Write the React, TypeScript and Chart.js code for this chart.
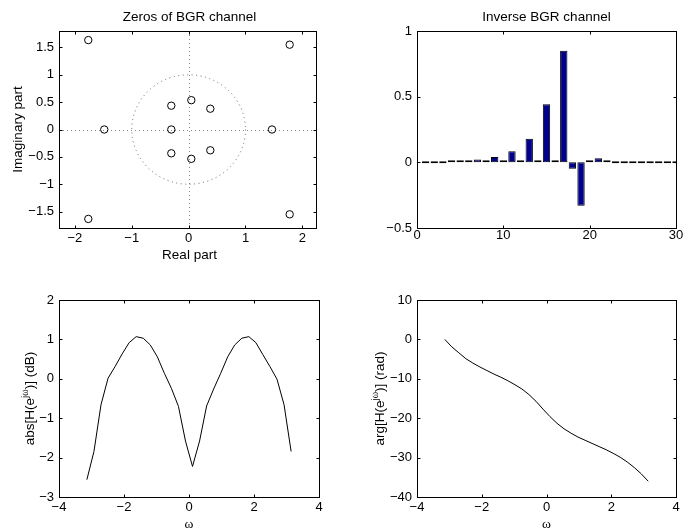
import React, { useEffect, useRef } from "react";
import { Chart, registerables } from "chart.js";

Chart.register(...registerables);

// ---------------- data ----------------
// Panel 1: zeros of the channel (real / imaginary parts)
const zerosReal = [-1.765, 1.777, -1.765, 1.777, -1.484, 1.466, -0.305, 0.047, 0.381, -0.305, -0.305, 0.047, 0.381];
const zerosImag = [1.634, 1.55, -1.634, -1.55, 0, 0, 0.435, 0.536, 0.38, 0, -0.435, -0.536, -0.38];
const zerosXTicks = [-2, -1, 0, 1, 2];
const zerosYTicks = [-1.5, -1, -0.5, 0, 0.5, 1, 1.5];
const unitCircleRadius = 1;

// Panel 2: inverse channel taps
const tapIndex = [1, 2, 3, 4, 5, 6, 7, 8, 9, 10, 11, 12, 13, 14, 15, 16, 17, 18, 19, 20, 21, 22, 23, 24, 25, 26, 27, 28, 29, 30];
const tapValue = [0, 0, 0, 0.002, 0.008, 0.003, 0.022, 0.004, 0.04, 0.005, 0.084, 0.005, 0.179, 0.015, 0.442, 0.015, 0.85, -0.048, -0.33, 0.002, 0.032, 0.002, 0, 0, 0, 0, 0, 0, 0, 0];
const tapXTicks = [0, 10, 20, 30];
const tapYTicks = [-0.5, 0, 0.5, 1];

// Panels 3/4: frequency response
const omega = [-3.142, -2.925, -2.708, -2.491, -2.275, -2.058, -1.842, -1.625, -1.408, -1.192, -0.975, -0.758, -0.542, -0.325, -0.108, 0.108, 0.325, 0.542, 0.758, 0.975, 1.192, 1.408, 1.625, 1.842, 2.058, 2.275, 2.491, 2.708, 2.925, 3.142];
const magnitudeDb = [-2.56, -1.845, -0.66, 0.015, 0.31, 0.63, 0.917, 1.07, 1.03, 0.86, 0.56, 0.14, -0.24, -0.7, -1.58, -2.225, -1.58, -0.69, -0.26, 0.14, 0.56, 0.86, 1.03, 1.07, 0.917, 0.61, 0.31, -0.01, -0.66, -1.845];
const phaseRad = [0, -1.9, -3.4, -4.9, -6.0, -7.0, -7.9, -8.8, -9.6, -10.5, -11.5, -12.6, -14.0, -15.7, -17.7, -19.6, -21.3, -22.7, -23.8, -24.8, -25.6, -26.4, -27.2, -28.0, -28.9, -29.9, -31.1, -32.5, -34.1, -36.0];
const omegaTicks = [-4, -2, 0, 2, 4];
const magTicks = [-3, -2, -1, 0, 1, 2];
const phaseTicks = [-40, -30, -20, -10, 0, 10];

// ---------------- styling ----------------
const W = 698;
const H = 529;
const SANS = "'Liberation Sans', Arial, Helvetica, sans-serif";
const SERIF = "'Liberation Serif', 'DejaVu Serif', serif";
const AXIS_W = 50;
const AXIS_H = 30;
const TICK_LEN = 3;
const TEXT_SIZE = 13.5;

type Area = { left: number; top: number; right: number; bottom: number };
type Part = { t: string; sup?: boolean; serif?: boolean };
type TextSpec = {
  title?: string;
  titleDx?: number;
  xlabel?: Part[];
  xlabelDx?: number;
  xlabelDy?: number;
  ylabel?: Part[];
  ylabelDx?: number;
};

const fmt = (v: number | string) => String(v).replace("-", "\u2212");

function drawParts(ctx: CanvasRenderingContext2D, parts: Part[], x: number, y: number) {
  const fonts = parts.map((p) => `${p.sup ? TEXT_SIZE * 0.72 : TEXT_SIZE}px ${p.serif ? SERIF : SANS}`);
  const widths = parts.map((p, i) => {
    ctx.font = fonts[i];
    return ctx.measureText(p.t).width;
  });
  const total = widths.reduce((a, b) => a + b, 0);
  let cx = x - total / 2;
  ctx.textAlign = "left";
  ctx.textBaseline = "alphabetic";
  parts.forEach((p, i) => {
    ctx.font = fonts[i];
    ctx.fillText(p.t, cx, p.sup ? y - TEXT_SIZE * 0.42 : y);
    cx += widths[i];
  });
}

function makeTextPlugin(spec: TextSpec) {
  return {
    id: "panelText",
    afterDraw(chart: any) {
      const { ctx, chartArea: a } = chart;
      ctx.save();
      ctx.fillStyle = "#000";
      const cx = (a.left + a.right) / 2;
      const cy = (a.top + a.bottom) / 2;
      if (spec.title) drawParts(ctx, [{ t: spec.title }], cx + (spec.titleDx || 0), a.top - 10.5);
      if (spec.xlabel) drawParts(ctx, spec.xlabel, cx + (spec.xlabelDx || 0), a.bottom + (spec.xlabelDy || 31));
      if (spec.ylabel) {
        ctx.translate(a.left + (spec.ylabelDx || -30), cy);
        ctx.rotate(-Math.PI / 2);
        drawParts(ctx, spec.ylabel, 0, 0);
      }
      ctx.restore();
    },
  };
}

const framePlugin = {
  id: "frame",
  afterDatasetsDraw(chart: any) {
    const { ctx, chartArea: a, scales } = chart;
    ctx.save();
    ctx.strokeStyle = "#000";
    ctx.lineWidth = 1;
    ctx.setLineDash([]);
    const l = Math.round(a.left) + 0.5;
    const r = Math.round(a.right) + 0.5;
    const t = Math.round(a.top) + 0.5;
    const b = Math.round(a.bottom) + 0.5;
    ctx.strokeRect(l, t, r - l, b - t);
    ctx.beginPath();
    const xs = scales.x;
    xs.ticks.forEach((tk: any) => {
      if (tk.value <= xs.min || tk.value >= xs.max) return;
      const px = Math.round(xs.getPixelForValue(tk.value)) + 0.5;
      ctx.moveTo(px, b);
      ctx.lineTo(px, b - TICK_LEN);
      ctx.moveTo(px, t);
      ctx.lineTo(px, t + TICK_LEN);
    });
    const ys = scales.y;
    ys.ticks.forEach((tk: any) => {
      if (tk.value <= ys.min || tk.value >= ys.max) return;
      const py = Math.round(ys.getPixelForValue(tk.value)) + 0.5;
      ctx.moveTo(l, py);
      ctx.lineTo(l + TICK_LEN, py);
      ctx.moveTo(r, py);
      ctx.lineTo(r - TICK_LEN, py);
    });
    ctx.stroke();
    ctx.restore();
  },
};

const unitCirclePlugin = {
  id: "unitCircle",
  beforeDatasetsDraw(chart: any) {
    const { ctx, chartArea: a, scales } = chart;
    const cx = scales.x.getPixelForValue(0);
    const cy = scales.y.getPixelForValue(0);
    const rx = scales.x.getPixelForValue(unitCircleRadius) - cx;
    const ry = cy - scales.y.getPixelForValue(unitCircleRadius);
    ctx.save();
    ctx.strokeStyle = "#666";
    ctx.lineWidth = 1;
    ctx.setLineDash([1, 3.5]);
    ctx.beginPath();
    ctx.ellipse(cx, cy, rx, ry, 0, 0, Math.PI * 2);
    ctx.stroke();
    ctx.setLineDash([1, 3]);
    ctx.strokeStyle = "#888";
    ctx.beginPath();
    const py = Math.round(cy) + 0.5;
    const px = Math.round(cx) + 0.5;
    ctx.moveTo(a.left, py);
    ctx.lineTo(a.right, py);
    ctx.moveTo(px, a.top);
    ctx.lineTo(px, a.bottom);
    ctx.stroke();
    ctx.restore();
  },
};

function axes(xMin: number, xMax: number, yMin: number, yMax: number, xTicks: number[], yTicks: number[], xPad: number) {
  const tickFont = { family: SANS, size: 13 };
  return {
    x: {
      type: "linear",
      position: "bottom",
      min: xMin,
      max: xMax,
      offset: false,
      grid: { display: false, drawTicks: false },
      border: { display: false },
      ticks: { color: "#000", font: tickFont, padding: xPad, maxRotation: 0, autoSkip: false, callback: fmt },
      afterBuildTicks: (s: any) => {
        s.ticks = xTicks.map((v) => ({ value: v }));
      },
      afterFit: (s: any) => {
        s.height = AXIS_H;
      },
    },
    y: {
      type: "linear",
      position: "left",
      min: yMin,
      max: yMax,
      grid: { display: false, drawTicks: false },
      border: { display: false },
      ticks: { color: "#000", font: tickFont, padding: 5, autoSkip: false, callback: fmt },
      afterBuildTicks: (s: any) => {
        s.ticks = yTicks.map((v) => ({ value: v }));
      },
      afterFit: (s: any) => {
        s.width = AXIS_W;
      },
    },
  };
}

function baseOptions(area: Area, scales: any) {
  return {
    responsive: false,
    animation: false,
    devicePixelRatio: 1,
    events: [],
    layout: {
      padding: {
        left: area.left - AXIS_W,
        top: area.top,
        right: W - area.right,
        bottom: H - area.bottom - AXIS_H,
      },
    },
    plugins: { legend: { display: false }, tooltip: { enabled: false }, title: { display: false } },
    scales,
  };
}

const AREA_TL: Area = { left: 59, top: 31, right: 316, bottom: 228 };
const AREA_TR: Area = { left: 417, top: 31, right: 676, bottom: 228 };
const AREA_BL: Area = { left: 59, top: 300, right: 319, bottom: 497 };
const AREA_BR: Area = { left: 417, top: 300, right: 676, bottom: 497 };

function zerosConfig(): any {
  return {
    type: "scatter",
    data: {
      datasets: [
        {
          data: zerosReal.map((re, i) => ({ x: re, y: zerosImag[i] })),
          showLine: false,
          pointRadius: 3.7,
          pointBorderWidth: 1,
          pointBorderColor: "#000",
          pointBackgroundColor: "rgba(0,0,0,0)",
        },
      ],
    },
    options: baseOptions(AREA_TL, axes(-2.28, 2.24, -1.8, 1.8, zerosXTicks, zerosYTicks, 3)),
    plugins: [
      unitCirclePlugin,
      framePlugin,
      makeTextPlugin({
        title: "Zeros of BGR channel",
        titleDx: 2,
        xlabel: [{ t: "Real part" }],
        xlabelDx: 2,
        xlabelDy: 31,
        ylabel: [{ t: "Imaginary part" }],
        ylabelDx: -37,
      }),
    ],
  };
}

function tapsConfig(): any {
  return {
    type: "bar",
    data: {
      datasets: [
        {
          data: tapIndex.map((n, i) => ({ x: n, y: tapValue[i] })),
          backgroundColor: "#00008C",
          borderColor: "#000",
          borderWidth: 1,
          borderSkipped: false,
          minBarLength: 2,
          barPercentage: 0.85,
          categoryPercentage: 1,
        },
      ],
    },
    options: baseOptions(AREA_TR, axes(0, 30, -0.5, 1, tapXTicks, tapYTicks, -0.5)),
    plugins: [framePlugin, makeTextPlugin({ title: "Inverse BGR channel" })],
  };
}

function responseConfig(values: number[], area: Area, yMin: number, yMax: number, yTicks: number[], ylabel: Part[], ylabelDx: number): any {
  return {
    type: "scatter",
    data: {
      datasets: [
        {
          data: omega.map((w, i) => ({ x: w, y: values[i] })),
          showLine: true,
          borderColor: "#000",
          borderWidth: 1,
          pointRadius: 0,
          tension: 0,
        },
      ],
    },
    options: baseOptions(area, axes(-4, 4, yMin, yMax, omegaTicks, yTicks, 3)),
    plugins: [
      framePlugin,
      makeTextPlugin({
        xlabel: [{ t: "\u03c9", serif: true }],
        xlabelDy: 30.5,
        ylabel,
        ylabelDx,
      }),
    ],
  };
}

export default function App() {
  const r1 = useRef<HTMLCanvasElement>(null);
  const r2 = useRef<HTMLCanvasElement>(null);
  const r3 = useRef<HTMLCanvasElement>(null);
  const r4 = useRef<HTMLCanvasElement>(null);

  useEffect(() => {
    const charts: Chart[] = [];
    const make = (el: HTMLCanvasElement | null, cfg: any) => {
      if (el) charts.push(new Chart(el, cfg));
    };
    make(r1.current, zerosConfig());
    make(r2.current, tapsConfig());
    make(
      r3.current,
      responseConfig(
        magnitudeDb,
        AREA_BL,
        -3,
        2,
        magTicks,
        [{ t: "abs[H(e" }, { t: "j", sup: true }, { t: "\u03c9", sup: true, serif: true }, { t: ")] (dB)" }],
        -25
      )
    );
    make(
      r4.current,
      responseConfig(
        phaseRad,
        AREA_BR,
        -40,
        10,
        phaseTicks,
        [{ t: "arg[H(e" }, { t: "j", sup: true }, { t: "\u03c9", sup: true, serif: true }, { t: ")] (rad)" }],
        -33
      )
    );
    return () => charts.forEach((c) => c.destroy());
  }, []);

  const cs: React.CSSProperties = { position: "absolute", left: 0, top: 0, width: W, height: H };
  return (
    <div style={{ position: "absolute", left: 0, top: 0, width: W, height: H, background: "#fff", overflow: "hidden" }}>
      <canvas ref={r1} width={W} height={H} style={cs} />
      <canvas ref={r2} width={W} height={H} style={cs} />
      <canvas ref={r3} width={W} height={H} style={cs} />
      <canvas ref={r4} width={W} height={H} style={cs} />
    </div>
  );
}
